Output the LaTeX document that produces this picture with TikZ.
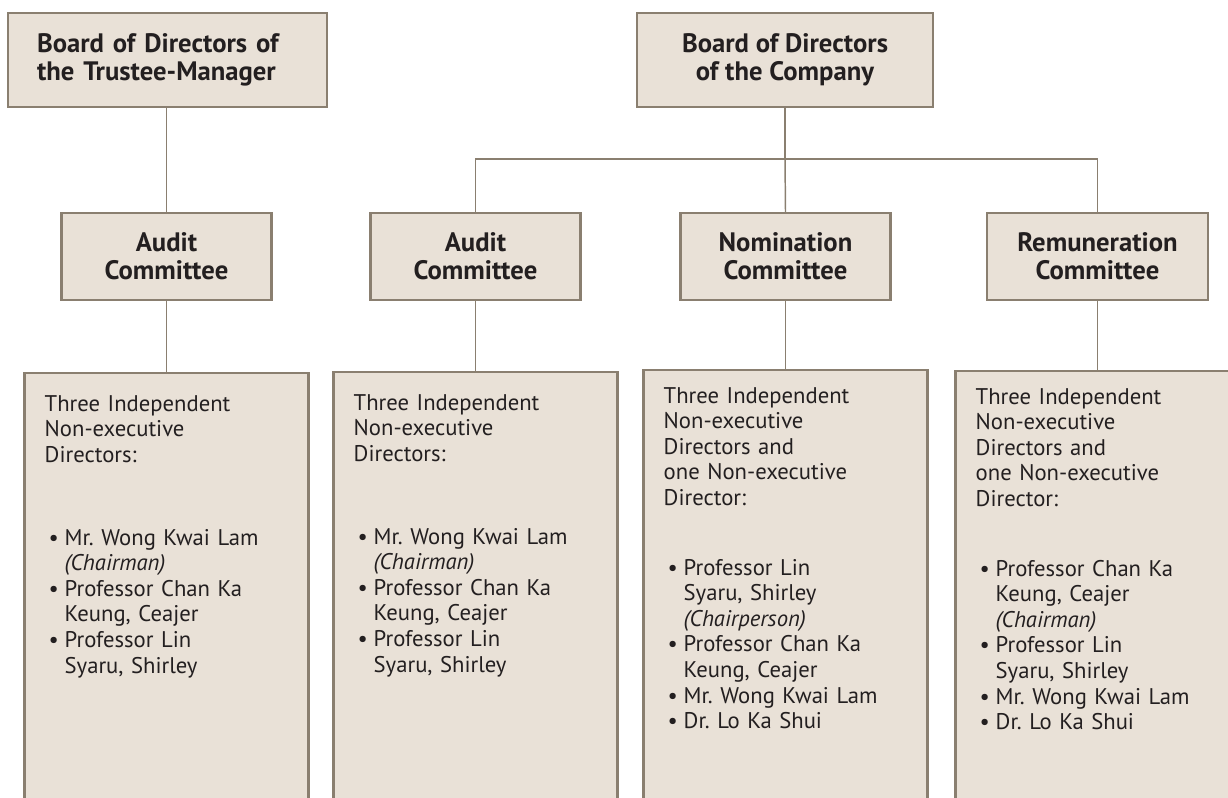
\documentclass[tikz,border=0pt]{standalone}
\usepackage{fontspec}
\setmainfont{PT Sans}
\usetikzlibrary{positioning}
\definecolor{boxfill}{HTML}{E9E1D7}
\definecolor{boxline}{HTML}{8A7F70}
\definecolor{ink}{HTML}{231F20}
\frenchspacing
\newcommand{\bitem}[1]{\hspace*{3pt}\makebox[12pt][l]{\textbullet}#1}
\newcommand{\bcont}[1]{\hspace*{15pt}#1}

\begin{document}
\begin{tikzpicture}[x=0.75pt,y=-0.75pt,
  board/.style={draw=boxline,fill=boxfill,line width=1.6pt,text=ink,
    font=\fontsize{20}{21}\selectfont\bfseries,inner sep=0pt},
  cmte/.style={board,align=center,minimum height=65.25pt},
  listbox/.style={draw=boxline,fill=boxfill,line width=1.6pt,
    minimum width=213pt,minimum height=345pt,anchor=north,inner sep=0pt},
  listtext/.style={text=ink,font=\fontsize{17}{19.2}\selectfont,
    align=left,anchor=base west,inner sep=0pt,text width=195pt},
  link/.style={draw=boxline,line width=1.1pt}]
  \useasboundingbox (0,0) rectangle (1228,797);
  \clip (0,0) rectangle (1228,797);
  % boards
  \node[board,minimum width=239.25pt,minimum height=70.5pt,text width=195.75pt,
    align=left] (bdtm) at (167.5,60) {Board of Directors of\\the Trustee-Manager};
  \node[board,minimum width=222pt,minimum height=70.5pt,align=center]
    (bdco) at (785,60) {Board of Directors\\of the Company};
  % committees
  \node[cmte,minimum width=157.5pt] (aud1) at (166.5,256.5) {Audit\\Committee};
  \node[cmte,minimum width=157.5pt] (aud2) at (475.5,256.5) {Audit\\Committee};
  \node[cmte,minimum width=157.5pt] (nom) at (785.5,256.5) {Nomination\\Committee};
  \node[cmte,minimum width=165.75pt] (rem) at (1097.5,256.5) {Remuneration\\Committee};
  % member boxes, cut off at the bottom
  \node[listbox] (lst1) at (166.5,372) {};
  \node[listbox] (lst2) at (475.5,371) {};
  \node[listbox] (lst3) at (785.5,369) {};
  \node[listbox] (lst4) at (1097.5,370) {};
  \node[listtext] (txt1) at ([shift={(21,39)}]lst1.north west) {Three Independent\\
    Non-executive\\Directors:\\[43pt]
    \bitem{Mr. Wong Kwai Lam}\\\bcont{\textit{(Chairman)}}\\
    \bitem{Professor Chan Ka}\\\bcont{Keung, Ceajer}\\
    \bitem{Professor Lin}\\\bcont{Syaru, Shirley}};
  \node[listtext] (txt2) at ([shift={(21,39)}]lst2.north west) {Three Independent\\
    Non-executive\\Directors:\\[43pt]
    \bitem{Mr. Wong Kwai Lam}\\\bcont{\textit{(Chairman)}}\\
    \bitem{Professor Chan Ka}\\\bcont{Keung, Ceajer}\\
    \bitem{Professor Lin}\\\bcont{Syaru, Shirley}};
  \node[listtext] (txt3) at ([shift={(21,34)}]lst3.north west) {Three Independent\\
    Non-executive\\Directors and\\one Non-executive\\Director:\\[33pt]
    \bitem{Professor Lin}\\\bcont{Syaru, Shirley}\\\bcont{\textit{(Chairperson)}}\\
    \bitem{Professor Chan Ka}\\\bcont{Keung, Ceajer}\\
    \bitem{Mr. Wong Kwai Lam}\\\bitem{Dr. Lo Ka Shui}};
  \node[listtext] (txt4) at ([shift={(21,34)}]lst4.north west) {Three Independent\\
    Non-executive\\Directors and\\one Non-executive\\Director:\\[33pt]
    \bitem{Professor Chan Ka}\\\bcont{Keung, Ceajer}\\\bcont{\textit{(Chairman)}}\\
    \bitem{Professor Lin}\\\bcont{Syaru, Shirley}\\
    \bitem{Mr. Wong Kwai Lam}\\\bitem{Dr. Lo Ka Shui}};
  % connectors
  \coordinate (bar) at (785,159);
  \draw[link] (aud1.north |- bdtm.south) -- (aud1.north);
  \draw[link] (bdco.south) -- (bar);
  \draw[link] (aud2.north) |- (bar) -| (rem.north);
  \draw[link] (bar) -- (nom.north);
  \foreach \c/\l in {aud1/lst1,aud2/lst2,nom/lst3,rem/lst4}
    \draw[link] (\c.south) -- (\l.north);
\end{tikzpicture}
\end{document}
